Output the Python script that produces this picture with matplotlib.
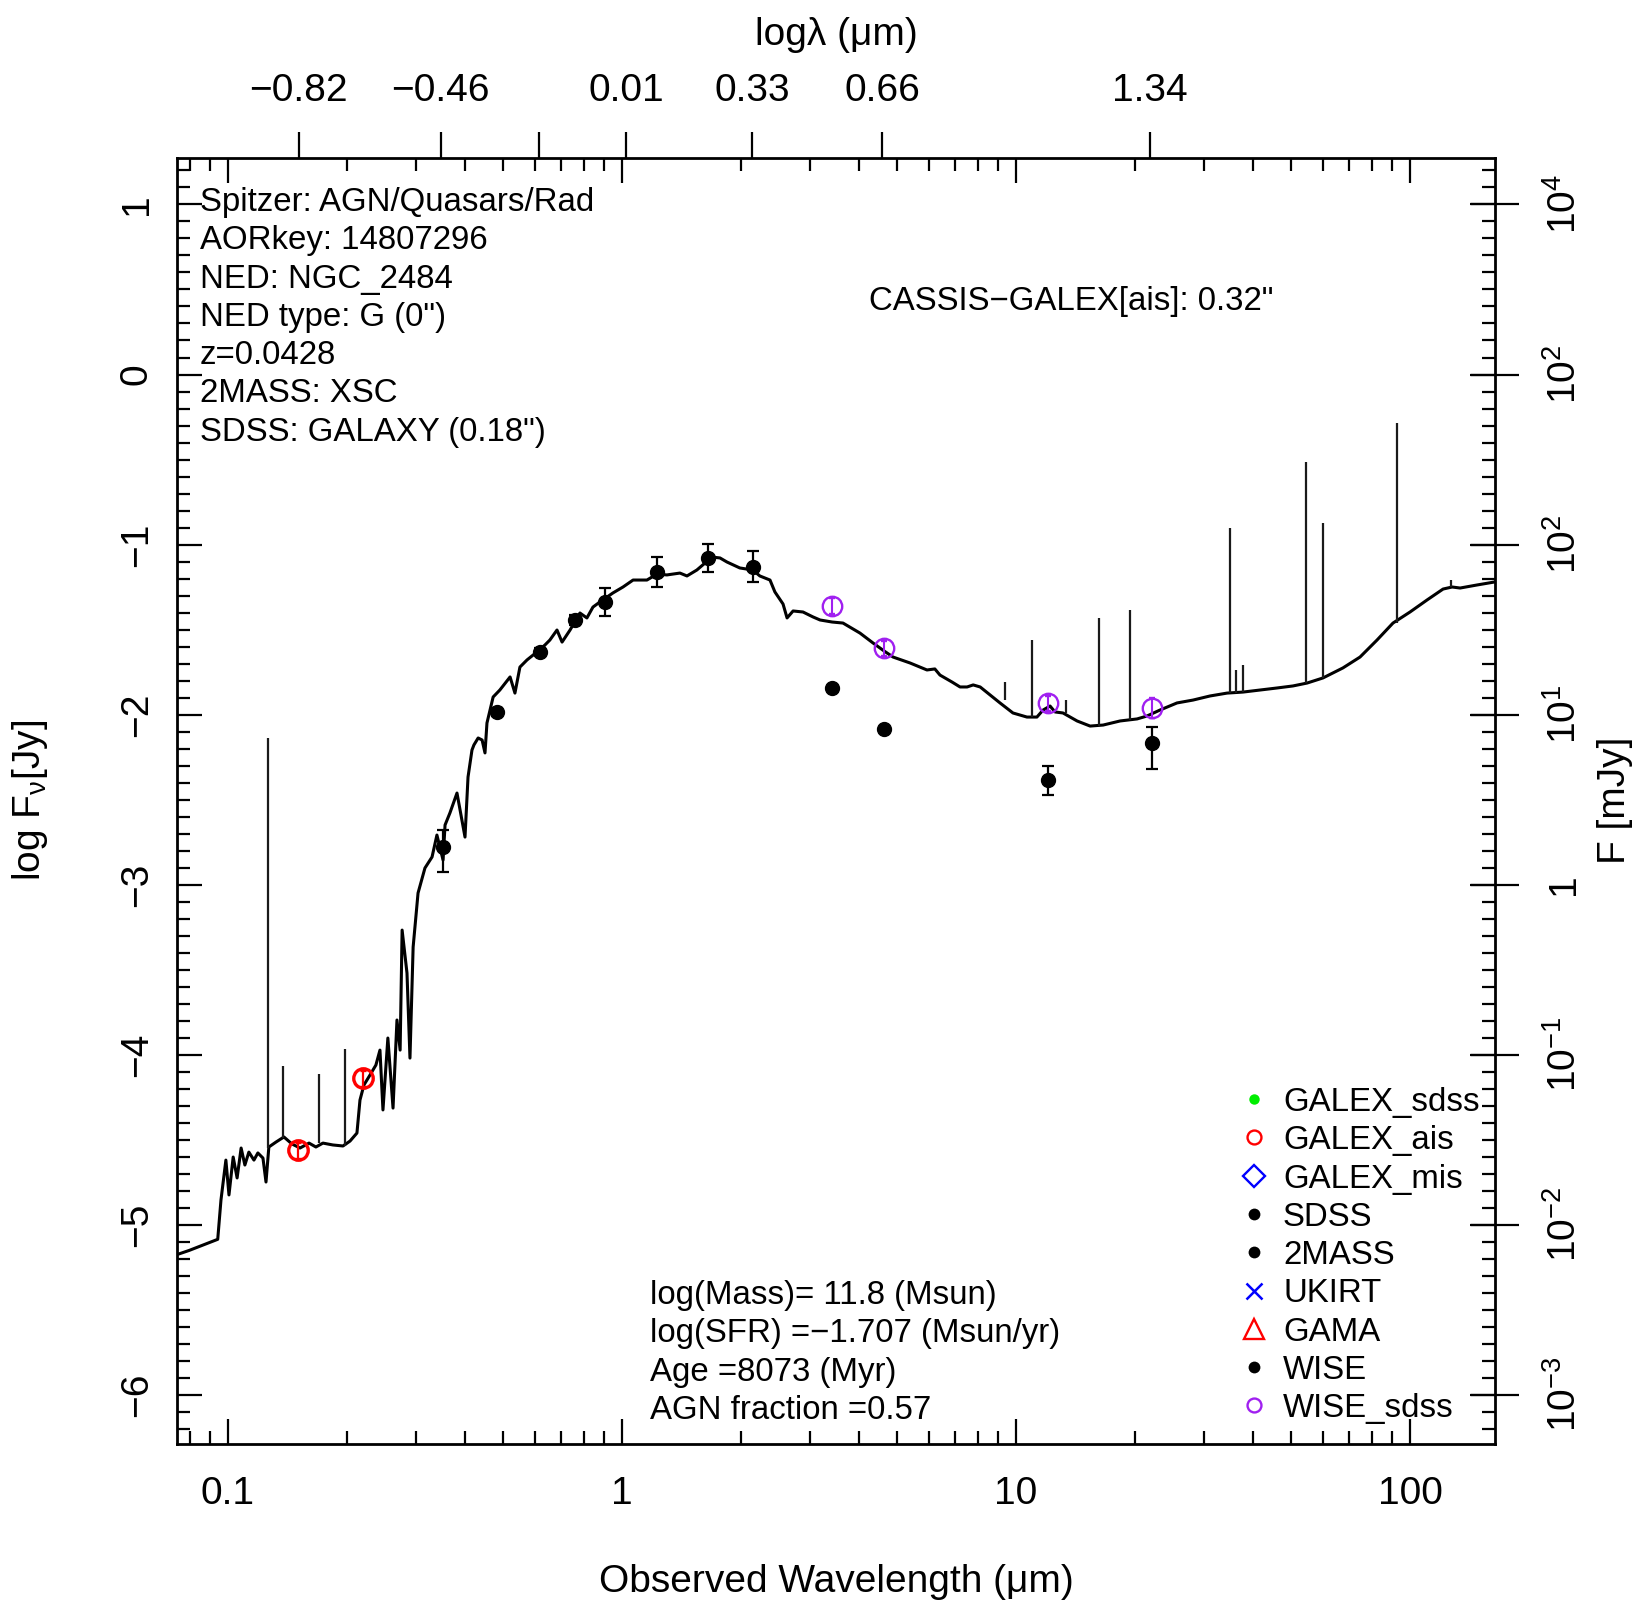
import numpy as np
import matplotlib
matplotlib.use("Agg")
import matplotlib.pyplot as plt
from matplotlib.ticker import (FixedLocator, FixedFormatter, MultipleLocator,
                               NullLocator, NullFormatter, LogLocator, FuncFormatter)

plt.rcParams["font.family"] = ["Liberation Sans", "DejaVu Sans"]
plt.rcParams["mathtext.fontset"] = "custom"
plt.rcParams["mathtext.rm"] = "Liberation Sans"
plt.rcParams["mathtext.it"] = "Liberation Sans:italic"
plt.rcParams["mathtext.bf"] = "Liberation Sans:bold"
plt.rcParams["axes.unicode_minus"] = True

# ---------------- best-fit SED model (observed wavelength in um, log Fnu in Jy)
model_wl = [0.0738, 0.0798, 0.0863, 0.0942, 0.0960, 0.0988, 0.1006, 0.1031, 0.1055, 0.1080,
            0.1104, 0.1130, 0.1164, 0.1191, 0.1227, 0.1249, 0.1270, 0.1324, 0.1387, 0.1453,
            0.1524, 0.1606, 0.1672, 0.1742, 0.1846, 0.1959, 0.2041, 0.2125, 0.2163, 0.2214,
            0.2293, 0.2374, 0.2431, 0.2474, 0.2546, 0.2624, 0.2685, 0.2735, 0.2767, 0.2847,
            0.2897, 0.2951, 0.3037, 0.3162, 0.3296, 0.3391, 0.3515, 0.3556, 0.3659, 0.3813,
            0.3996, 0.4067, 0.4162, 0.4210, 0.4315, 0.4416, 0.4491, 0.4543, 0.4710, 0.4898,
            0.5200, 0.5350, 0.5508, 0.5741, 0.6085, 0.6376, 0.6561, 0.6840, 0.7046, 0.7383,
            0.7822, 0.8147, 0.8440, 0.8790, 0.9484, 1.006, 1.067, 1.157, 1.227, 1.300,
            1.403, 1.462, 1.549, 1.624, 1.692, 1.773, 1.847, 1.991, 2.148, 2.238,
            2.375, 2.444, 2.563, 2.624, 2.718, 2.880, 3.053, 3.182, 3.415, 3.638,
            4.018, 4.335, 4.624, 4.875, 5.385, 5.943, 6.224, 6.413, 6.881, 7.211,
            7.514, 7.787, 8.111, 8.597, 9.108, 9.823, 10.66, 11.30, 11.71, 12.20,
            12.56, 13.16, 14.29, 15.42, 16.64, 18.37, 20.29, 21.49, 23.18, 25.62,
            28.14, 31.07, 34.33, 37.67, 41.61, 45.96, 50.45, 54.78, 60.12, 67.56,
            74.66, 82.45, 90.52, 100.0, 110.5, 121.3, 127.9, 134.0, 148.0, 163.4, 179.5]
model_logf = [-5.179, -5.152, -5.121, -5.087, -4.856, -4.621, -4.826, -4.603, -4.726, -4.550,
              -4.650, -4.574, -4.621, -4.579, -4.609, -4.750, -4.544, -4.515, -4.485, -4.526,
              -4.550, -4.521, -4.544, -4.521, -4.532, -4.538, -4.509, -4.462, -4.268, -4.179,
              -4.121, -4.062, -3.974, -4.326, -3.903, -4.315, -3.797, -3.974, -3.268, -3.521,
              -4.021, -3.368, -3.050, -2.903, -2.838, -2.709, -2.856, -2.650, -2.579, -2.462,
              -2.721, -2.368, -2.209, -2.179, -2.138, -2.150, -2.226, -2.050, -1.897, -1.856,
              -1.779, -1.874, -1.721, -1.679, -1.632, -1.591, -1.562, -1.503, -1.574, -1.503,
              -1.403, -1.432, -1.368, -1.338, -1.285, -1.250, -1.209, -1.209, -1.174, -1.179,
              -1.168, -1.185, -1.150, -1.109, -1.074, -1.079, -1.103, -1.138, -1.150, -1.185,
              -1.209, -1.279, -1.350, -1.432, -1.391, -1.397, -1.426, -1.444, -1.456, -1.462,
              -1.521, -1.579, -1.626, -1.662, -1.697, -1.738, -1.732, -1.768, -1.809, -1.838,
              -1.838, -1.826, -1.838, -1.885, -1.932, -1.991, -2.015, -2.015, -1.974, -1.950,
              -1.985, -1.991, -2.038, -2.068, -2.062, -2.038, -2.026, -2.009, -1.974, -1.932,
              -1.915, -1.891, -1.874, -1.868, -1.856, -1.844, -1.832, -1.815, -1.785, -1.726,
              -1.662, -1.562, -1.462, -1.397, -1.326, -1.262, -1.250, -1.256, -1.238, -1.221, -1.197]

# emission lines of the model: wavelength, continuum level, line peak
line_wl = [0.1262, 0.1380, 0.1707, 0.1987, 9.376, 10.96, 13.40, 16.25,
           19.45, 34.9, 36.1, 37.6, 54.3, 60.0, 92.9, 127.0]
line_base = [-4.55, -4.49, -4.52, -4.54, -1.915, -2.015, -1.99, -2.065,
             -2.03, -1.874, -1.872, -1.868, -1.815, -1.785, -1.46, -1.252]
line_peak = [-2.14, -4.07, -4.115, -3.97, -1.807, -1.562, -1.915, -1.434,
             -1.385, -0.901, -1.738, -1.709, -0.513, -0.872, -0.287, -1.21]

# ---------------- photometry
galex_ais_wl = [0.1503, 0.2198]
galex_ais_logf = [-4.562, -4.140]
galex_ais_err = [0.05, 0.05]

sdss_wl = [0.352, 0.481, 0.620, 0.760, 0.906]
sdss_logf = [-2.778, -1.984, -1.630, -1.444, -1.336]
sdss_err_lo = [0.147, 0.025, 0.02, 0.03, 0.083]
sdss_err_hi = [0.098, 0.025, 0.02, 0.03, 0.083]

tmass_wl = [1.225, 1.656, 2.153]
tmass_logf = [-1.160, -1.081, -1.131]
tmass_err = [0.088, 0.083, 0.090]

wise_wl = [3.404, 4.624, 12.08, 22.1]
wise_logf = [-1.846, -2.087, -2.385, -2.169]
wise_err_lo = [0.0, 0.0, 0.09, 0.153]
wise_err_hi = [0.0, 0.0, 0.085, 0.096]

wise_sdss_logf = [-1.362, -1.611, -1.934, -1.960]
wise_sdss_err = [0.045, 0.045, 0.045, 0.06]

# ---------------- axis labels and annotations
bottom_ticks = [0.1, 1, 10, 100]
bottom_labels = ["0.1", "1", "10", "100"]
top_tick_vals = [-0.82, -0.46, -0.21, 0.01, 0.33, 0.66, 1.34]
top_tick_labels = ["\u22120.82", "\u22120.46", "", "0.01", "0.33", "0.66", "1.34"]
right_tick_pos = [1, 0, -1, -2, -3, -4, -5, -6]
right_tick_labels = [r"$\mathregular{10^{4}}$", r"$\mathregular{10^{2}}$",
                     r"$\mathregular{10^{2}}$", r"$\mathregular{10^{1}}$", "1",
                     r"$\mathregular{10^{-1}}$", r"$\mathregular{10^{-2}}$",
                     r"$\mathregular{10^{-3}}$"]

info_lines = ["Spitzer: AGN/Quasars/Rad", "AORkey: 14807296", "NED: NGC_2484",
              "NED type: G (0\")", "z=0.0428", "2MASS: XSC", "SDSS: GALAXY (0.18\")"]
match_text = "CASSIS\u2212GALEX[ais]: 0.32\""
fit_lines = ["log(Mass)= 11.8 (Msun)", "log(SFR) =\u22121.707 (Msun/yr)",
             "Age =8073 (Myr)", "AGN fraction =0.57"]
legend_labels = ["GALEX_sdss", "GALEX_ais", "GALEX_mis", "SDSS", "2MASS",
                 "UKIRT", "GAMA", "WISE", "WISE_sdss"]

# ---------------- figure
W, H = 1639, 1604
fig = plt.figure(figsize=(W / 100, H / 100), dpi=100)
L, R, T, B = 177, 1495, 158, 1444
ax = fig.add_axes([L / W, 1 - B / H, (R - L) / W, (B - T) / H])
ax.set_xscale("log")
ax.set_xlim(0.07425, 164.3)
ax.set_ylim(-6.291, 1.2735)

def fx(X):
    return X / W

def fy(Y):
    return 1 - Y / H

# model spectrum and its lines
ax.plot(model_wl, model_logf, color="black", lw=2.2, zorder=2)
ax.vlines(line_wl, line_base, line_peak, colors="#1a1a1a", lw=1.6, zorder=2)

# photometric points
purple = "#a020f0"
ax.errorbar(galex_ais_wl, galex_ais_logf, yerr=galex_ais_err, fmt="o", ms=14,
            mfc="none", mec="red", mew=2.4, ecolor="red", elinewidth=1.6,
            capsize=2.5, capthick=1.5, zorder=4)
ax.errorbar(sdss_wl, sdss_logf, yerr=[sdss_err_lo, sdss_err_hi], fmt="o", ms=10,
            color="black", elinewidth=1.6, capsize=4, capthick=1.6, zorder=4)
ax.errorbar(tmass_wl, tmass_logf, yerr=tmass_err, fmt="o", ms=10,
            color="black", elinewidth=1.6, capsize=4, capthick=1.6, zorder=4)
ax.errorbar(wise_wl, wise_logf, yerr=[wise_err_lo, wise_err_hi], fmt="o", ms=10,
            color="black", elinewidth=1.6, capsize=4, capthick=1.6, zorder=4)
ax.errorbar(wise_wl, wise_sdss_logf, yerr=wise_sdss_err, fmt="o", ms=14,
            mfc="none", mec=purple, mew=1.7, ecolor=purple, elinewidth=1.5,
            capsize=2.5, capthick=1.4, zorder=5)

# twin axes for the right-hand mJy scale and the top log-wavelength scale
axr = ax.twinx()
axt = ax.twiny()

axr.set_ylim(ax.get_ylim())
axr.yaxis.set_major_locator(FixedLocator(right_tick_pos))
axr.yaxis.set_major_formatter(FixedFormatter(right_tick_labels))
axr.yaxis.set_minor_locator(NullLocator())
axr.tick_params(axis="y", which="major", direction="inout", length=35, width=1.6,
                labelsize=28, pad=19, labelrotation=90)
for t in axr.get_yticklabels():
    t.set_va("center")

axt.set_xscale("log")
axt.set_xlim(ax.get_xlim())
axt.xaxis.set_major_locator(FixedLocator(10 ** np.array(top_tick_vals)))
axt.xaxis.set_major_formatter(FixedFormatter(top_tick_labels))
axt.xaxis.set_minor_locator(NullLocator())
axt.xaxis.set_minor_formatter(NullFormatter())
axt.tick_params(axis="x", which="major", direction="out", length=19, width=1.6,
                labelsize=28, pad=16)

for a in (axr, axt):
    for s in a.spines.values():
        s.set_visible(False)

# main axis ticks
ax.xaxis.set_major_locator(FixedLocator(bottom_ticks))
ax.xaxis.set_major_formatter(FixedFormatter(bottom_labels))
ax.xaxis.set_minor_locator(LogLocator(base=10, subs=np.arange(2, 10)))
ax.xaxis.set_minor_formatter(NullFormatter())
ax.yaxis.set_major_locator(MultipleLocator(1))
ax.yaxis.set_minor_locator(MultipleLocator(0.1))
ax.yaxis.set_major_formatter(FuncFormatter(lambda v, _: f"{int(round(v))}".replace("-", "\u2212")))
ax.tick_params(axis="x", which="major", direction="in", length=18, width=1.6,
               top=True, bottom=True, labeltop=False, labelbottom=True, labelsize=28, pad=23)
ax.tick_params(axis="x", which="minor", direction="in", length=9.4, width=1.6,
               top=True, bottom=True)
ax.tick_params(axis="y", which="major", direction="in", length=18, width=1.6,
               left=True, right=True, labelleft=True, labelright=False,
               labelsize=28, pad=16, labelrotation=90)
ax.tick_params(axis="y", which="minor", direction="in", length=9.4, width=1.6,
               left=True, right=True)
for t in ax.get_yticklabels():
    t.set_va("center")
for s in ax.spines.values():
    s.set_linewidth(2.0)

# axis titles
fig.text(fx(836), fy(31), "log\u03bb (\u03bcm)", ha="center", va="center_baseline", fontsize=28)
fig.text(fx(836), fy(1578), "Observed Wavelength (\u03bcm)", ha="center",
         va="center_baseline", fontsize=28)
fig.text(fx(30), fy(800), r"log F$_{\mathregular{\nu}}$[Jy]", ha="center", va="center",
         rotation=90, fontsize=28)
fig.text(fx(1615), fy(800), "F [mJy]", ha="center", va="center", rotation=90, fontsize=28)

# annotations
fs = 23.8
for i, s in enumerate(info_lines):
    fig.text(fx(200), fy(199 + 38.3 * i), s, ha="left", va="center_baseline", fontsize=fs)
fig.text(fx(1071), fy(298), match_text, ha="center", va="center_baseline", fontsize=fs)
for i, s in enumerate(fit_lines):
    fig.text(fx(650), fy(1292 + 38.4 * i), s, ha="left", va="center_baseline", fontsize=fs)

# legend
leg_style = [
    dict(marker="o", ms=7.5, mfc="#00ee00", mec="#00ee00", mew=0),
    dict(marker="o", ms=10, mfc="none", mec="red", mew=1.7),
    dict(marker="D", ms=11, mfc="none", mec="#0000ff", mew=1.7),
    dict(marker="o", ms=8.5, mfc="black", mec="black", mew=0),
    dict(marker="o", ms=8.5, mfc="black", mec="black", mew=0),
    dict(marker="x", ms=11, mfc="none", mec="#0000ff", mew=1.8),
    dict(marker="^", ms=14, mfc="none", mec="red", mew=1.7),
    dict(marker="o", ms=8.5, mfc="black", mec="black", mew=0),
    dict(marker="o", ms=10, mfc="none", mec=purple, mew=1.7),
]
for i, (lab, st) in enumerate(zip(legend_labels, leg_style)):
    yy = 1099 + 38.3 * i
    ax.plot([fx(1254)], [fy(yy)], transform=fig.transFigure, ls="none",
            clip_on=False, zorder=6, **st)
    fig.text(fx(1283), fy(yy), lab, ha="left", va="center_baseline", fontsize=fs)

fig.savefig("out.png", dpi=100)
